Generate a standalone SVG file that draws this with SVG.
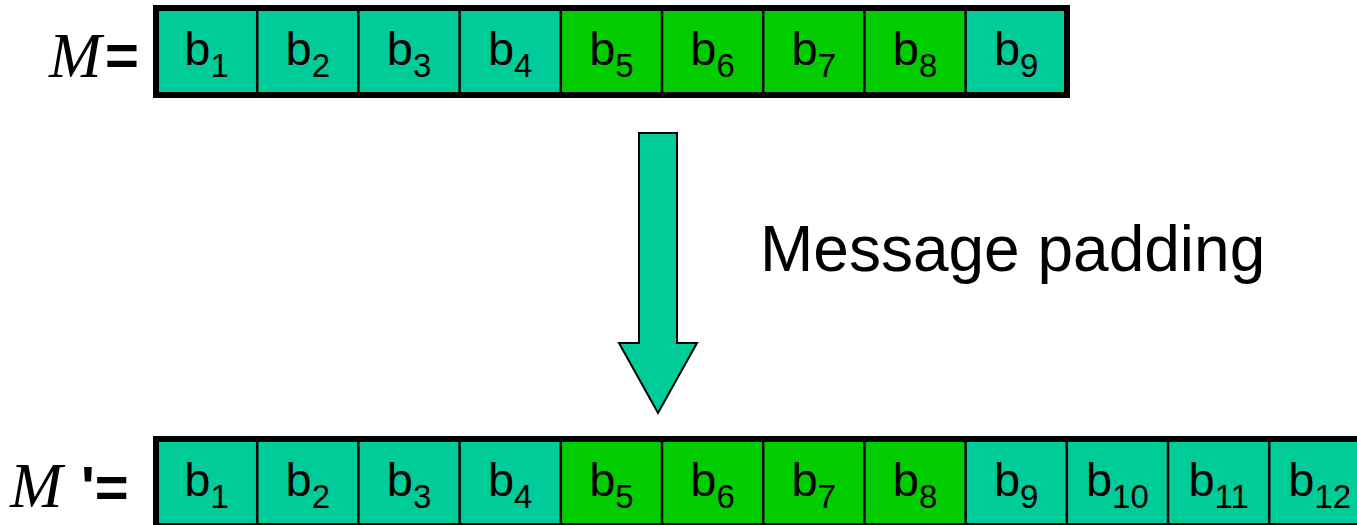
<svg xmlns="http://www.w3.org/2000/svg" width="1357" height="525" viewBox="0 0 1357 525">
  <style>
    .teal { fill: #00CC99; }
    .green { fill: #00CC00; }
    .div { stroke: #000; stroke-width: 2.5; }
    .frame { fill: none; stroke: #000; stroke-width: 6; }
    .b { font-family: "Liberation Sans", Arial, sans-serif; font-size: 47px; fill: #000; text-anchor: middle; }
    .sub { font-size: 33px; }
    .var { font-family: "Liberation Serif", "Times New Roman", serif; font-style: italic; font-size: 63px; fill: #000; }
    .eq { font-family: "Liberation Sans", Arial, sans-serif; font-weight: bold; font-size: 58px; fill: #000; }
    .label { font-family: "Liberation Sans", Arial, sans-serif; font-size: 64px; fill: #000; }
    .arrow { fill: #00CC99; stroke: #000; stroke-width: 2; stroke-linejoin: miter; }
  </style>

  <!-- Original message M -->
  <g id="message-M">
    <text class="var" x="49" y="77">M</text>
    <text class="eq" x="105" y="75">=</text>
    <g id="M-cells">
      <rect class="teal" x="156" y="8" width="404.8" height="87"/>
      <rect class="green" x="560.8" y="8" width="404.8" height="87"/>
      <rect class="teal" x="965.6" y="8" width="101.4" height="87"/>
      <line class="div" x1="257.2" y1="8" x2="257.2" y2="95"/>
      <line class="div" x1="358.4" y1="8" x2="358.4" y2="95"/>
      <line class="div" x1="459.6" y1="8" x2="459.6" y2="95"/>
      <line class="div" x1="560.8" y1="8" x2="560.8" y2="95"/>
      <line class="div" x1="662" y1="8" x2="662" y2="95"/>
      <line class="div" x1="763.2" y1="8" x2="763.2" y2="95"/>
      <line class="div" x1="864.4" y1="8" x2="864.4" y2="95"/>
      <line class="div" x1="965.6" y1="8" x2="965.6" y2="95"/>
      <rect class="frame" x="156" y="8" width="911" height="87"/>
    </g>
    <g id="M-labels">
      <text class="b" x="206.6" y="65">b<tspan class="sub" dy="12">1</tspan></text>
      <text class="b" x="307.8" y="65">b<tspan class="sub" dy="12">2</tspan></text>
      <text class="b" x="409" y="65">b<tspan class="sub" dy="12">3</tspan></text>
      <text class="b" x="510.2" y="65">b<tspan class="sub" dy="12">4</tspan></text>
      <text class="b" x="611.4" y="65">b<tspan class="sub" dy="12">5</tspan></text>
      <text class="b" x="712.6" y="65">b<tspan class="sub" dy="12">6</tspan></text>
      <text class="b" x="813.8" y="65">b<tspan class="sub" dy="12">7</tspan></text>
      <text class="b" x="915" y="65">b<tspan class="sub" dy="12">8</tspan></text>
      <text class="b" x="1016.2" y="65">b<tspan class="sub" dy="12">9</tspan></text>
    </g>
  </g>

  <!-- Padding step: block arrow and its caption -->
  <g id="connectors">
    <polygon class="arrow" points="639,133 677,133 677,343 697,343 658,413 619,343 639,343"/>
  </g>
  <g id="padding-label">
    <text class="label" x="760" y="271">Message padding</text>
  </g>

  <!-- Padded message M' -->
  <g id="message-M-prime">
    <text class="var" x="10" y="507">M</text>
    <text class="eq" x="81" y="507">'=</text>
    <g id="Mp-cells">
      <rect class="teal" x="156" y="439" width="404.8" height="87"/>
      <rect class="green" x="560.8" y="439" width="404.8" height="87"/>
      <rect class="teal" x="965.6" y="439" width="410" height="87"/>
      <line class="div" x1="257.2" y1="439" x2="257.2" y2="526"/>
      <line class="div" x1="358.4" y1="439" x2="358.4" y2="526"/>
      <line class="div" x1="459.6" y1="439" x2="459.6" y2="526"/>
      <line class="div" x1="560.8" y1="439" x2="560.8" y2="526"/>
      <line class="div" x1="662" y1="439" x2="662" y2="526"/>
      <line class="div" x1="763.2" y1="439" x2="763.2" y2="526"/>
      <line class="div" x1="864.4" y1="439" x2="864.4" y2="526"/>
      <line class="div" x1="965.6" y1="439" x2="965.6" y2="526"/>
      <line class="div" x1="1066.8" y1="439" x2="1066.8" y2="526"/>
      <line class="div" x1="1168" y1="439" x2="1168" y2="526"/>
      <line class="div" x1="1269.2" y1="439" x2="1269.2" y2="526"/>
      <rect class="frame" x="156" y="439" width="1214" height="87"/>
    </g>
    <g id="Mp-labels">
      <text class="b" x="206.6" y="496">b<tspan class="sub" dy="12">1</tspan></text>
      <text class="b" x="307.8" y="496">b<tspan class="sub" dy="12">2</tspan></text>
      <text class="b" x="409" y="496">b<tspan class="sub" dy="12">3</tspan></text>
      <text class="b" x="510.2" y="496">b<tspan class="sub" dy="12">4</tspan></text>
      <text class="b" x="611.4" y="496">b<tspan class="sub" dy="12">5</tspan></text>
      <text class="b" x="712.6" y="496">b<tspan class="sub" dy="12">6</tspan></text>
      <text class="b" x="813.8" y="496">b<tspan class="sub" dy="12">7</tspan></text>
      <text class="b" x="915" y="496">b<tspan class="sub" dy="12">8</tspan></text>
      <text class="b" x="1016.2" y="496">b<tspan class="sub" dy="12">9</tspan></text>
      <text class="b" x="1117.4" y="496">b<tspan class="sub" dy="12">10</tspan></text>
      <text class="b" x="1218.6" y="496">b<tspan class="sub" dy="12">11</tspan></text>
      <text class="b" x="1319.8" y="496">b<tspan class="sub" dy="12">12</tspan></text>
    </g>
  </g>
</svg>
